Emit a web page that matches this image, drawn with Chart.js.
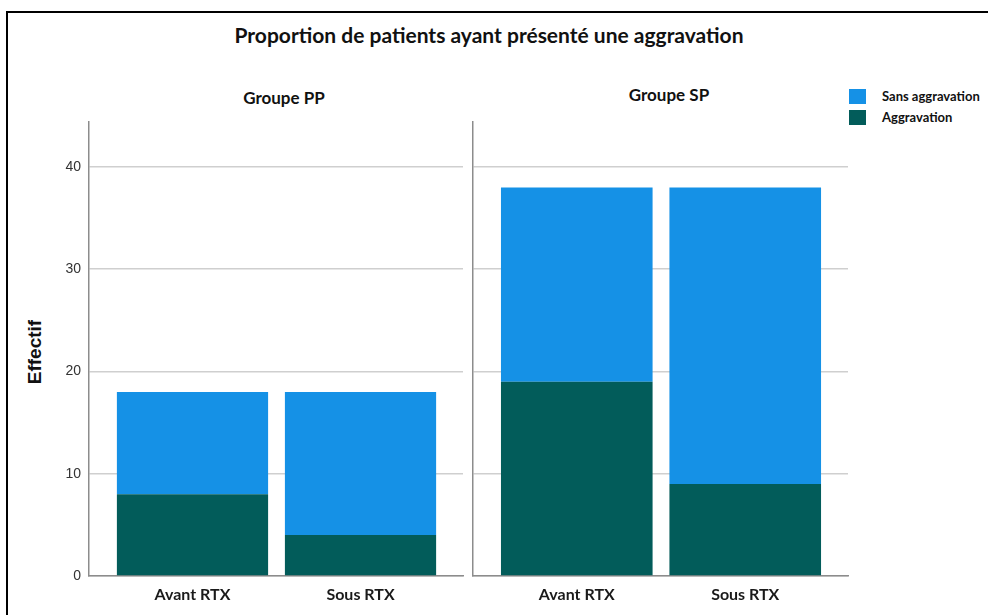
<!DOCTYPE html>
<html lang="fr">
<head>
<meta charset="UTF-8">
<title>Proportion de patients ayant présenté une aggravation</title>
<script src="https://cdn.jsdelivr.net/npm/chart.js"></script>
<style>
  body { margin: 0; width: 988px; height: 615px; overflow: hidden; background: #fff; position: relative; font-family: Lato, "Open Sans", sans-serif; }
  .frame { position: absolute; left: 6px; top: 11px; width: 1100px; height: 700px; border: 2px solid #000; }
  .title { position: absolute; left: 0; width: 978px; top: 22px; text-align: center; font-weight: bold; font-size: 21px; color: #111; }
  .panel-title { position: absolute; top: 87px; width: 200px; text-align: center; font-weight: bold; font-size: 17px; color: #111; }
  .ytitle { position: absolute; left: 35px; top: 352px; transform: translate(-50%, -50%) rotate(-90deg); font-family: "Liberation Sans Narrow", "Liberation Sans", Arial, sans-serif; font-weight: bold; font-size: 19px; color: #111; white-space: nowrap; }
  .legend { position: absolute; left: 849px; top: 89px; font-size: 13px; font-weight: bold; color: #111; }
  .legend div { height: 21px; line-height: 15px; white-space: nowrap; }
  .legend span { display: inline-block; width: 17px; height: 15px; vertical-align: top; margin-right: 16px; }
  canvas { position: absolute; }
</style>
</head>
<body>
<div class="frame"></div>
<div class="title">Proportion de patients ayant présenté une aggravation</div>
<div class="panel-title" style="left:184px">Groupe PP</div>
<div class="panel-title" style="left:569px;top:84px">Groupe SP</div>
<div class="ytitle">Effectif</div>
<div class="legend" id="legend"></div>
<canvas id="chartPP" style="left:0;top:100px"></canvas>
<canvas id="chartSP" style="left:466px;top:100px"></canvas>
<script>
const categories = ['Avant RTX', 'Sous RTX'];
const seriesNames = ['Aggravation', 'Sans aggravation'];
const seriesColors = ['#025c5a', '#1591e6'];
// valeurs par groupe : [Avant RTX, Sous RTX]
const ppAggravation = [8, 4];
const ppSansAggravation = [10, 14];
const spAggravation = [19, 9];
const spSansAggravation = [19, 29];

// légende (ordre inverse comme dans l'original)
const legend = document.getElementById('legend');
[1, 0].forEach(i => {
    const row = document.createElement('div');
    row.innerHTML = `<span style="background:${seriesColors[i]}"></span>${seriesNames[i]}`;
    legend.appendChild(row);
});

function makeChart(id, width, yWidth, rightPad, aggr, sans, showTicks) {
    const canvas = document.getElementById(id);
    canvas.width = width;
    canvas.height = 515;
    canvas.style.width = width + 'px';
    canvas.style.height = '515px';
    const toPoints = arr => arr.map((v, i) => ({ x: i, y: v }));
    return new Chart(canvas, {
        type: 'bar',
        data: {
            datasets: [
                { label: seriesNames[0], data: toPoints(aggr), backgroundColor: seriesColors[0] },
                { label: seriesNames[1], data: toPoints(sans), backgroundColor: seriesColors[1] }
            ]
        },
        options: {
            responsive: false,
            animation: false,
            barPercentage: 0.9,
            categoryPercentage: 1,
            layout: { padding: { top: 22, right: rightPad, left: 0, bottom: 0 } },
            plugins: { legend: { display: false }, tooltip: { enabled: false } },
            scales: {
                x: {
                    type: 'linear',
                    stacked: true,
                    offset: false,
                    min: -0.616,
                    max: 1.61,
                    afterFit: s => { s.height = 39; },
                    grid: { display: false, offset: false },
                    border: { display: true, color: '#8c8c8c', width: 1.5 },
                    ticks: {
                        stepSize: 1,
                        includeBounds: false,
                        padding: 1,
                        color: '#1a1a1a',
                        font: { family: 'Lato', weight: 'bold', size: 16 },
                        callback: v => categories[v] || ''
                    }
                },
                y: {
                    stacked: true,
                    min: 0,
                    max: 44.4,
                    afterFit: s => { s.width = yWidth; },
                    grid: { color: '#cfcfcf', lineWidth: 1.5, drawTicks: false },
                    border: { display: true, color: '#8c8c8c', width: 1.5 },
                    ticks: {
                        display: showTicks,
                        stepSize: 10,
                        includeBounds: false,
                        padding: 8,
                        color: '#333',
                        font: { family: 'Liberation Sans', size: 14 }
                    }
                }
            }
        }
    });
}

makeChart('chartPP', 470, 89, 7, ppAggravation, ppSansAggravation, true);
makeChart('chartSP', 390, 7, 8, spAggravation, spSansAggravation, false);
</script>
</body>
</html>
